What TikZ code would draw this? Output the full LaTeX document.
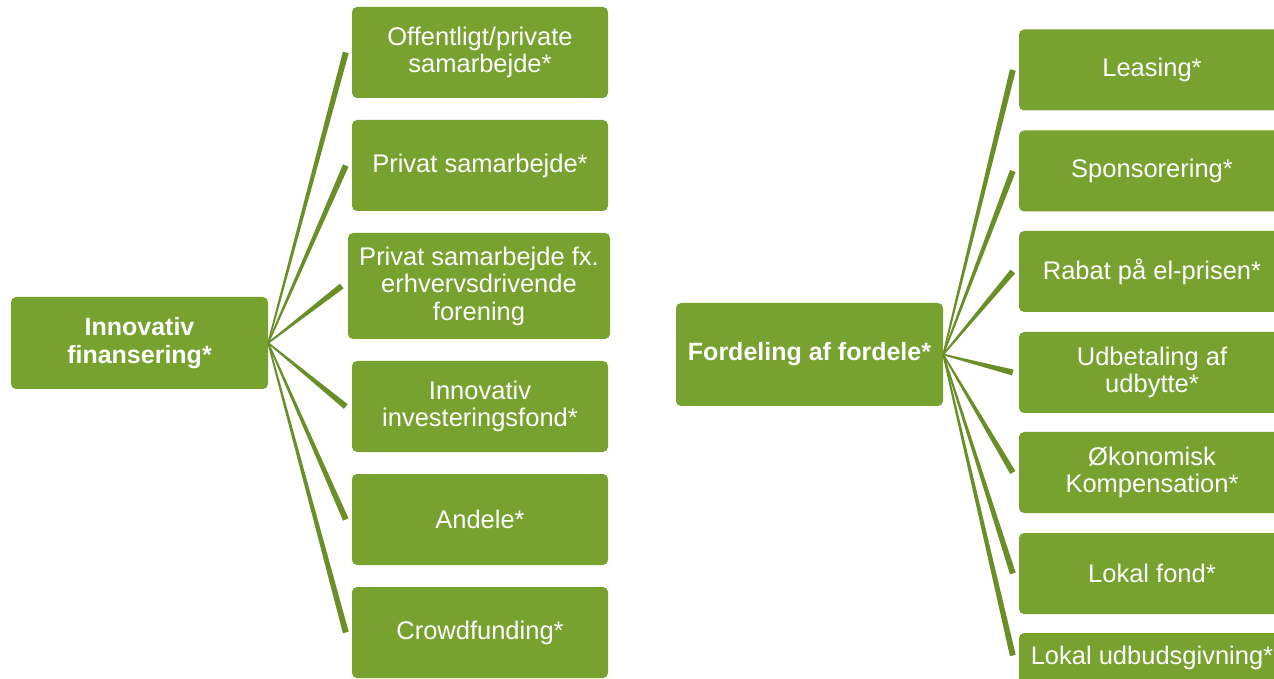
\documentclass[tikz,border=0pt]{standalone}
\usepackage{fontspec}
\setmainfont{Liberation Sans}
\usetikzlibrary{calc}
\definecolor{boxgreen}{HTML}{78A22F}
\definecolor{linegreen}{HTML}{6A8F29}
\tikzset{
  gbox/.style={fill=boxgreen, rounded corners=5pt, text=white, align=center,
    inner sep=0pt, font=\fontsize{25.5}{27.5}\selectfont},
  lchild/.style={gbox, minimum width=256pt, minimum height=91pt},
  rchild/.style={gbox, minimum width=266pt, minimum height=81pt},
  rootbox/.style={gbox, font=\fontsize{25}{28}\selectfont\bfseries},
  conn/.style={fill=linegreen}
}
\newcommand{\taper}[2]{%
  \fill[conn] ($(#1)!0.8pt!90:(#2)$) -- ($(#2)!3pt!-90:(#1)$) --
    ($(#2)!3pt!90:(#1)$) -- ($(#1)!0.8pt!-90:(#2)$) -- cycle;}
\begin{document}
\begin{tikzpicture}[x=1pt,y=1pt]
\useasboundingbox (0,0) rectangle (1274,678);
\begin{scope}
\clip (0,0) rectangle (1274,678);
% left tree
\node[rootbox, minimum width=257pt, minimum height=92pt] (lroot) at (139.5,335) {Innovativ\\finansering*};
\node[lchild] (l1) at (480,625.5) {Offentligt/private\\samarbejde*};
\node[lchild] (l2) at (480,512.5) {Privat samarbejde*};
\node[lchild, minimum width=262pt, minimum height=106pt] (l3) at (479,392) {Privat samarbejde fx.\\erhvervsdrivende\\forening};
\node[lchild] (l4) at (480,271.5) {Innovativ\\investeringsfond*};
\node[lchild] (l5) at (480,158.5) {Andele*};
\node[lchild] (l6) at (480,45.5) {Crowdfunding*};
% right tree
\node[rootbox, minimum width=267pt, minimum height=103pt] (rroot) at (809.5,323.5) {Fordeling af fordele*};
\node[rchild] (r1) at (1152,608) {Leasing*};
\node[rchild] (r2) at (1152,507) {Sponsorering*};
\node[rchild] (r3) at (1152,406.5) {Rabat på el-prisen*};
\node[rchild] (r4) at (1152,305.5) {Udbetaling af\\udbytte*};
\node[rchild] (r5) at (1152,205.5) {Økonomisk\\Kompensation*};
\node[rchild] (r6) at (1152,104.5) {Lokal fond*};
\node[rchild] (r7) at (1152,4.5) {\raisebox{36pt}{Lokal udbudsgivning*}};
% connector end points
\foreach \i in {1,2,3,4,5,6} {
  \coordinate (le\i) at ($(l\i.west)+(-6,0)$);
}
\foreach \i in {1,2,3,4,5,6} {
  \coordinate (re\i) at ($(r\i.west)+(-6,0)$);
}
\coordinate (re7) at ($(r7.west)+(-6,18)$);
\foreach \i in {1,2,3,4,5,6} {\taper{lroot.east}{le\i}}
\foreach \i in {1,2,3,4,5,6,7} {\taper{rroot.east}{re\i}}
\end{scope}
\end{tikzpicture}
\end{document}
